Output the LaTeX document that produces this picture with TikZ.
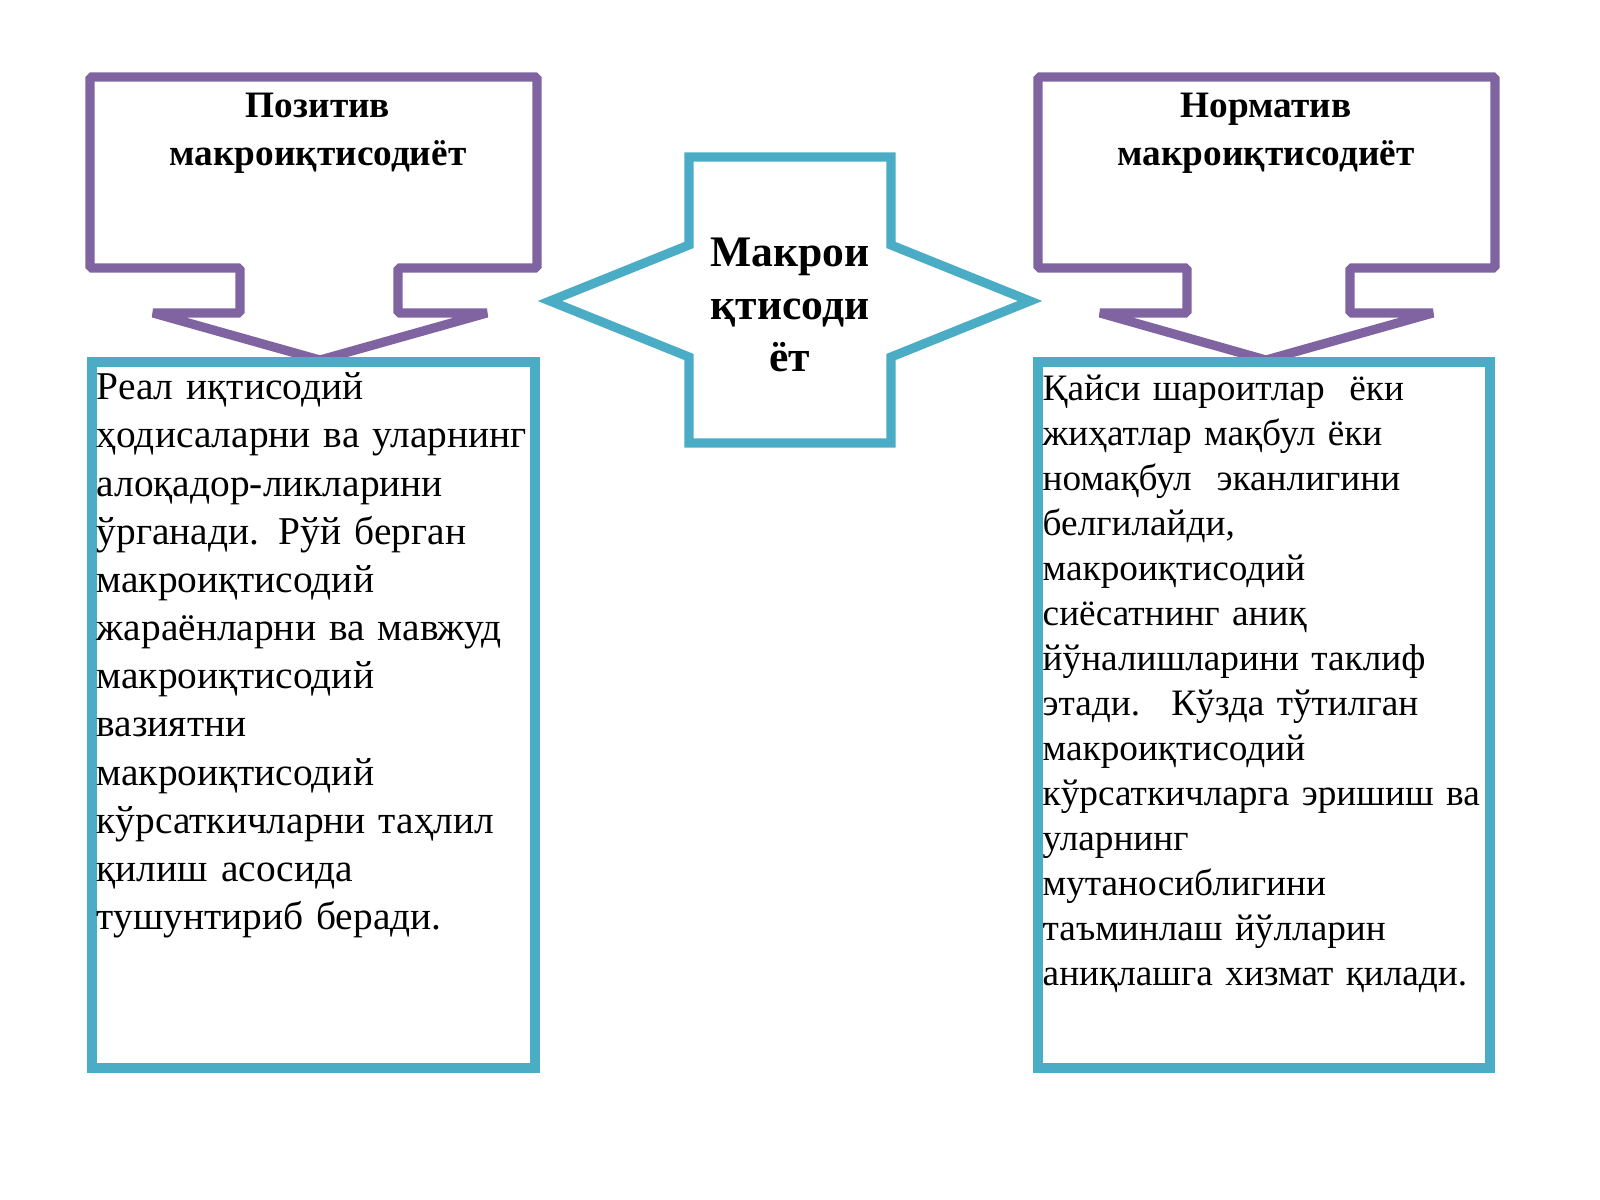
\documentclass[tikz,border=0pt]{standalone}
\usepackage{fontspec}
\setmainfont{Liberation Serif}
\definecolor{violet}{HTML}{8064A2}
\definecolor{teal}{HTML}{4BACC6}

\begin{document}
\begin{tikzpicture}[x=0.01cm,y=-0.01cm]
\tikzset{
  callout/.style={draw=violet,line width=2.6pt,line join=bevel},
  panel/.style={draw=teal,line width=2.6pt},
  heading/.style={font=\fontsize{10.6}{13.6}\selectfont\bfseries,align=center,text width=4.3cm},
  body/.style={font=\fontsize{11.2}{13.7}\selectfont,align=left,text width=4.6cm,inner sep=0pt,anchor=north west}
}
\useasboundingbox (0,0) rectangle (1600,1200);

% left callout
\draw[callout] (90,77) -- (537,77) -- (537,268) -- (398,268) -- (398,313) -- (487,313)
  -- (320,360) -- (153,313) -- (240,313) -- (240,268) -- (90,268) -- cycle;
\node[heading] (pos) at (318,133) {Позитив макроиқтисодиёт};
\draw[panel] (92,362) rectangle (535,1068);
\node[body] (posText) at (96,372) {Реал иқтисодий\\ ҳодисаларни ва уларнинг\\ алоқадор-ликларини\\ ўрганади. Рўй берган\\ макроиқтисодий\\ жараёнларни ва мавжуд\\ макроиқтисодий\\ вазиятни\\ макроиқтисодий\\ кўрсаткичларни таҳлил\\ қилиш асосида\\ тушунтириб беради.};

% centre arrow
\draw[panel,line join=miter] (689,157) -- (891,157) -- (891,245) -- (1030,301) -- (891,357)
  -- (891,443) -- (689,443) -- (689,357) -- (550,301) -- (689,245) -- cycle;
\node[font=\fontsize{12.4}{15}\selectfont\bfseries,align=center] (macro) at (790,305) {Макрои\\қтисоди\\ёт};

% right callout
\draw[callout] (1038,77) -- (1495,77) -- (1495,268) -- (1350,268) -- (1350,313) -- (1433,313)
  -- (1266,360) -- (1100,313) -- (1187,313) -- (1187,268) -- (1038,268) -- cycle;
\node[heading] (norm) at (1266,133) {Норматив макроиқтисодиёт};
\draw[panel] (1038,362) rectangle (1490,1068);
\node[body,font=\fontsize{10.6}{12.8}\selectfont] (normText) at (1042,374) {Қайси шароитлар~ ёки\\ жиҳатлар мақбул ёки\\ номақбул~ эканлигини\\ белгилайди,\\ макроиқтисодий\\ сиёсатнинг аниқ\\ йўналишларини таклиф\\ этади.~ Кўзда тўтилган\\ макроиқтисодий\\ кўрсаткичларга эришиш ва\\ уларнинг\\ мутаносиблигини\\ таъминлаш йўлларин\\ аниқлашга хизмат қилади.};
\end{tikzpicture}
\end{document}
